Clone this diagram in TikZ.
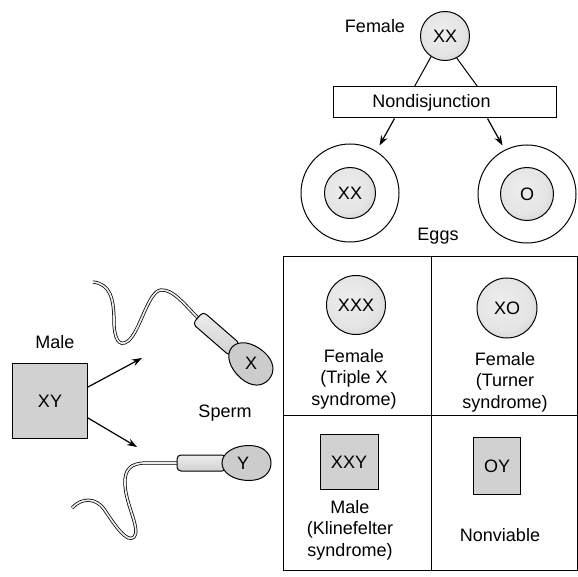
\documentclass[tikz,border=0pt]{standalone}
\usepackage{fontspec}
\setmainfont{Liberation Sans}
\usetikzlibrary{arrows.meta, calc}
\definecolor{light}{gray}{0.93}
\definecolor{mid}{gray}{0.82}
\definecolor{dark}{gray}{0.68}
\pgfdeclareradialshading{chromshade}{\pgfpoint{-6bp}{6bp}}{%
    color(0bp)=(light); color(22bp)=(light!70!mid); color(42bp)=(mid!60!dark);
    color(50bp)=(dark)}

\begin{document}
\begin{tikzpicture}[x=1pt, y=-1pt, line width=1pt,
    every node/.style={font=\fontsize{18}{21.5}\selectfont},
    chrom/.style={circle, draw, shading=chromshade,
        minimum size=#1, inner sep=0pt},
    chrombox/.style={draw, fill=mid, inner sep=0pt},
    arr/.style={line width=1.2pt, -{Stealth[length=10pt, width=7pt]}},
    tail/.style={double=light, double distance=1.7pt, line width=0.75pt}]

    \useasboundingbox (0,0) rectangle (578,577);

    % mother and nondisjunction
    \node[chrom=49] (mother) at (445,36) {XX};
    \node (female) at (375,26) {Female};
    \node[draw, minimum width=223, minimum height=31] (nondis) at (444.5,102.5) {};
    \node (nondislab) at ($(nondis)+(-13,0)$) {Nondisjunction};
    \draw (mother.236) -- ($(nondis.north)+(-30,0)$);
    \draw (mother.298) -- ($(nondis.north)+(33,0)$);

    % the two eggs
    \node[circle, draw, fill=white, minimum size=98] (eggxx) at (350,193) {};
    \node[chrom=51] (xxin) at (eggxx) {XX};
    \node[circle, draw, fill=white, minimum size=98] (eggo) at (527,194) {};
    \node[chrom=53] (oin) at (eggo) {O};
    \node (eggs) at (438,236) {Eggs};
    \draw[arr] ($(nondis.south)+(-50,0)$) -- +(-15,27);
    \draw[arr] ($(nondis.south)+(43,0)$) -- +(15,27);

    % father
    \node (male) at (55,342) {Male};
    \node[chrombox, minimum size=75] (father) at (50,401) {XY};
    \coordinate (tox) at (142,358);
    \coordinate (toy) at (137,447);
    \draw[arr] ($(father.east)+(0,-14)$) -- (tox);
    \draw[arr] ($(father.east)+(0,17)$) -- (toy);
    \node (sperm) at (225,413) {Sperm};

    % sperm tails
    \draw[tail] (198,318) .. controls (185,305) and (173,289) .. (161,290)
        .. controls (148,291) and (140,332) .. (128,341)
        .. controls (119,348) and (114,338) .. (114,322)
        .. controls (114,298) and (110,284) .. (93,282);
    \draw[tail] (177,463) -- (146,463) .. controls (131,463) and (124,469) .. (125,485)
        .. controls (126,505) and (141,530) .. (134,537)
        .. controls (127,544) and (114,524) .. (104,509)
        .. controls (96,498) and (82,497) .. (72,508);

    % sperm heads
    \foreach \cx/\cy/\ang/\dx/\lab in {250/363/-41/1/X, 246/463/0/-3/Y} {
        \begin{scope}[shift={(\cx,\cy)}, rotate=\ang]
            \draw[top color=light, bottom color=mid, rounded corners=4] (-69,-8) rectangle (-20,8);
            \draw[fill=mid!85!dark] (-24,0) .. controls (-24,-10) and (-12,-17.5) .. (3,-17.5)
                .. controls (17,-17.5) and (25,-10) .. (25,0)
                .. controls (25,10) and (17,17.5) .. (3,17.5)
                .. controls (-12,17.5) and (-24,10) .. (-24,0) -- cycle;
        \end{scope}
        \node (head\lab) at (\cx+\dx,\cy) {\lab};
    }

    % offspring table
    \draw (283,257) rectangle (577,570);
    \draw (431,257) -- (431,570);
    \draw (283,415) -- (577,415);

    \node[chrom=59] (xxx) at (356,305) {XXX};
    \node[align=center] (xxxlab) at (354,379) {Female\\(Triple X\\syndrome)};
    \node[chrom=60] (xo) at (507,308) {XO};
    \node[align=center] (xolab) at (505,382) {Female\\(Turner\\syndrome)};
    \node[chrombox, minimum width=58, minimum height=55] (xxy) at (349,462) {XXY};
    \node[align=center] (xxylab) at (350,530) {Male\\(Klinefelter\\syndrome)};
    \node[chrombox, minimum width=47, minimum height=57] (oy) at (497,466) {OY};
    \node (oylab) at (500,535) {Nonviable};

\end{tikzpicture}
\end{document}
